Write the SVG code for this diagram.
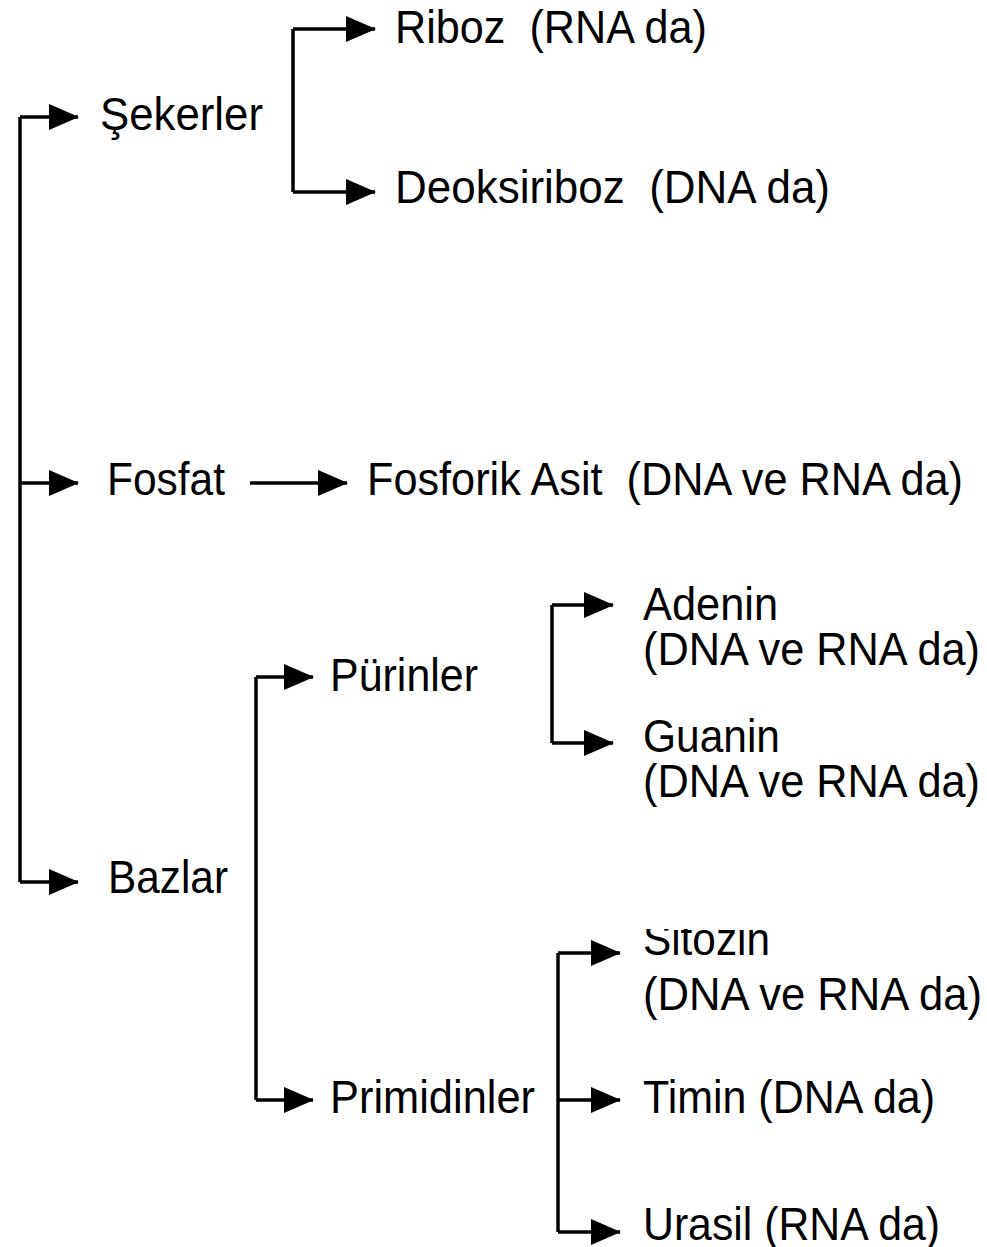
<svg xmlns="http://www.w3.org/2000/svg" width="987" height="1247" viewBox="0 0 987 1247">
  <style>
    .lbl { font-family: "Liberation Sans", Arial, sans-serif; font-size: 46px; fill: #000; }
    .conn path { fill: none; stroke: #000; stroke-width: 3.5; }
    .conn path.arr { marker-end: url(#head); }
  </style>
  <defs>
    <marker id="head" markerUnits="userSpaceOnUse" markerWidth="30" markerHeight="26" refX="29" refY="13" orient="auto">
      <path d="M0,0 L30,13 L0,26 Z" fill="#000"/>
    </marker>
    <clipPath id="sitozinClip">
      <rect x="630" y="929" width="200" height="40"/>
    </clipPath>
  </defs>
  <rect width="987" height="1247" fill="#fff"/>

  <!-- connectors -->
  <g id="connectors" class="conn">
    <!-- root bracket -->
    <path d="M20,117 V882"/>
    <path class="arr" d="M20,117 H78"/>
    <path class="arr" d="M20,483 H78"/>
    <path class="arr" d="M20,882 H78"/>
    <!-- sugars -->
    <path d="M293,29 V192"/>
    <path class="arr" d="M293,29 H375"/>
    <path class="arr" d="M293,192 H375"/>
    <!-- phosphate -->
    <path class="arr" d="M250,483 H347"/>
    <!-- bases -->
    <path d="M256,677 V1100"/>
    <path class="arr" d="M256,677 H313"/>
    <path class="arr" d="M256,1100 H313"/>
    <!-- purines -->
    <path d="M552,605 V743"/>
    <path class="arr" d="M552,605 H613"/>
    <path class="arr" d="M552,743 H613"/>
    <!-- pyrimidines -->
    <path d="M558,953 V1232"/>
    <path class="arr" d="M558,953 H620"/>
    <path class="arr" d="M558,1100 H620"/>
    <path class="arr" d="M558,1232 H620"/>
  </g>

  <g id="sekerler"><text class="lbl" x="100" y="130" textLength="163" lengthAdjust="spacingAndGlyphs">Şekerler</text></g>
  <g id="riboz"><text class="lbl" x="395" y="43" textLength="312" lengthAdjust="spacingAndGlyphs" xml:space="preserve">Riboz  (RNA da)</text></g>
  <g id="deoksiriboz"><text class="lbl" x="395" y="203" textLength="435" lengthAdjust="spacingAndGlyphs" xml:space="preserve">Deoksiriboz  (DNA da)</text></g>

  <g id="fosfat"><text class="lbl" x="107" y="495" textLength="118" lengthAdjust="spacingAndGlyphs">Fosfat</text></g>
  <g id="fosforik-asit"><text class="lbl" x="367" y="495" textLength="596" lengthAdjust="spacingAndGlyphs" xml:space="preserve">Fosforik Asit  (DNA ve RNA da)</text></g>

  <g id="bazlar"><text class="lbl" x="108" y="893" textLength="120" lengthAdjust="spacingAndGlyphs">Bazlar</text></g>
  <g id="purinler"><text class="lbl" x="330" y="691" textLength="148" lengthAdjust="spacingAndGlyphs">Pürinler</text></g>
  <g id="primidinler"><text class="lbl" x="330" y="1113" textLength="205" lengthAdjust="spacingAndGlyphs">Primidinler</text></g>

  <g id="adenin">
    <text class="lbl" x="643" y="620" textLength="135" lengthAdjust="spacingAndGlyphs">Adenin</text>
    <text class="lbl" x="643" y="665" textLength="337" lengthAdjust="spacingAndGlyphs">(DNA ve RNA da)</text>
  </g>
  <g id="guanin">
    <text class="lbl" x="643" y="752" textLength="137" lengthAdjust="spacingAndGlyphs">Guanin</text>
    <text class="lbl" x="643" y="797" textLength="337" lengthAdjust="spacingAndGlyphs">(DNA ve RNA da)</text>
  </g>
  <g id="sitozin">
    <text class="lbl" x="643" y="955" textLength="127" lengthAdjust="spacingAndGlyphs" clip-path="url(#sitozinClip)">Sitozin</text>
    <text class="lbl" x="643" y="1010" textLength="339" lengthAdjust="spacingAndGlyphs">(DNA ve RNA da)</text>
  </g>
  <g id="timin"><text class="lbl" x="643" y="1113" textLength="292" lengthAdjust="spacingAndGlyphs">Timin (DNA da)</text></g>
  <g id="urasil"><text class="lbl" x="643" y="1240" textLength="297" lengthAdjust="spacingAndGlyphs">Urasil (RNA da)</text></g>
</svg>
